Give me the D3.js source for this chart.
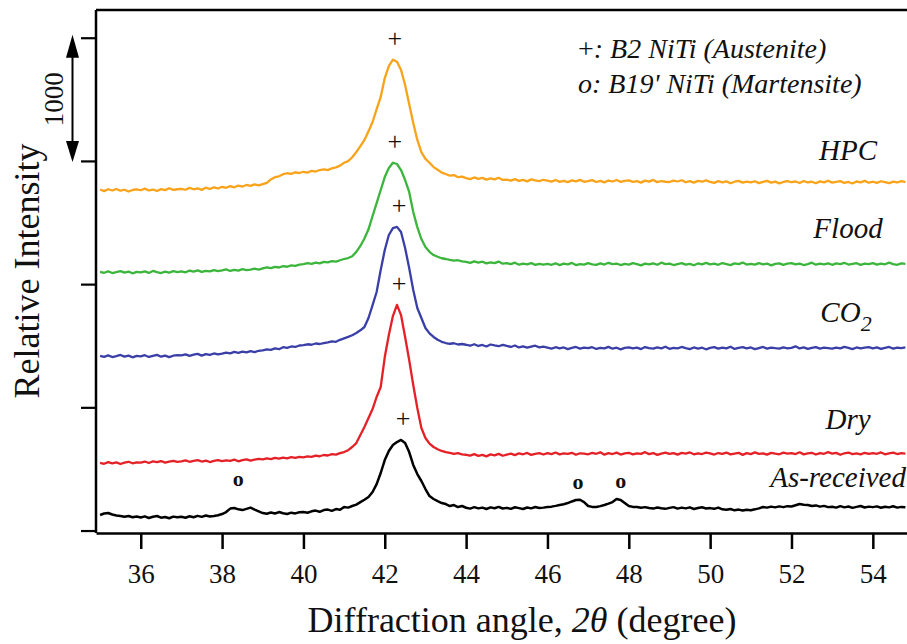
<!DOCTYPE html>
<html>
<head>
<meta charset="utf-8">
<script src="https://cdn.jsdelivr.net/npm/d3@7/dist/d3.min.js"></script>
<style>
  html, body { margin: 0; padding: 0; background: #fff; }
  svg { display: block; }
  text { font-family: "Liberation Serif", "Times New Roman", serif; fill: #111; }
</style>
</head>
<body>
<svg id="chart" width="907" height="644"></svg>
<script>
// Scan angles, 2θ in degrees
const angles = [
  35.0,35.1,35.2,35.3,35.4,35.5,35.6,35.7,35.8,35.9,
  36.0,36.1,36.2,36.3,36.4,36.5,36.6,36.7,36.8,36.9,
  37.0,37.1,37.2,37.3,37.4,37.5,37.6,37.7,37.8,37.9,
  38.0,38.1,38.2,38.3,38.4,38.5,38.6,38.7,38.8,38.9,
  39.0,39.1,39.2,39.3,39.4,39.5,39.6,39.7,39.8,39.9,
  40.0,40.1,40.2,40.3,40.4,40.5,40.6,40.7,40.8,40.9,
  41.0,41.1,41.2,41.3,41.4,41.5,41.6,41.7,41.8,41.9,
  42.0,42.1,42.2,42.3,42.4,42.5,42.6,42.7,42.8,42.9,
  43.0,43.1,43.2,43.3,43.4,43.5,43.6,43.7,43.8,43.9,
  44.0,44.1,44.2,44.3,44.4,44.5,44.6,44.7,44.8,44.9,
  45.0,45.1,45.2,45.3,45.4,45.5,45.6,45.7,45.8,45.9,
  46.0,46.1,46.2,46.3,46.4,46.5,46.6,46.7,46.8,46.9,
  47.0,47.1,47.2,47.3,47.4,47.5,47.6,47.7,47.8,47.9,
  48.0,48.1,48.2,48.3,48.4,48.5,48.6,48.7,48.8,48.9,
  49.0,49.1,49.2,49.3,49.4,49.5,49.6,49.7,49.8,49.9,
  50.0,50.1,50.2,50.3,50.4,50.5,50.6,50.7,50.8,50.9,
  51.0,51.1,51.2,51.3,51.4,51.5,51.6,51.7,51.8,51.9,
  52.0,52.1,52.2,52.3,52.4,52.5,52.6,52.7,52.8,52.9,
  53.0,53.1,53.2,53.3,53.4,53.5,53.6,53.7,53.8,53.9,
  54.0,54.1,54.2,54.3,54.4,54.5,54.6,54.7,54.8
];

// Intensities (counts, already stacked with a vertical offset per sample)
const hpc = [
  2768,2755,2770,2760,2772,2758,2766,2752,2764,2770,
  2762,2775,2760,2768,2756,2771,2763,2778,2765,2770,
  2774,2766,2781,2770,2778,2765,2783,2772,2786,2776,
  2790,2782,2795,2786,2800,2792,2805,2797,2810,2802,
  2812,2822,2850,2868,2875,2892,2900,2895,2908,2902,
  2912,2905,2920,2914,2926,2932,2925,2940,2948,2962,
  2985,2998,3030,3072,3120,3170,3240,3316,3420,3519,
  3673,3770,3822,3805,3738,3616,3462,3308,3170,3072,
  3016,2985,2950,2928,2905,2894,2880,2885,2868,2872,
  2860,2852,2866,2855,2862,2848,2858,2850,2863,2846,
  2848,2840,2852,2838,2846,2834,2850,2842,2836,2847,
  2840,2832,2845,2830,2838,2828,2842,2834,2846,2831,
  2836,2844,2829,2838,2826,2841,2833,2845,2830,2838,
  2842,2830,2836,2824,2840,2832,2846,2828,2837,2831,
  2829,2840,2833,2843,2827,2836,2824,2838,2831,2842,
  2830,2822,2836,2826,2834,2819,2831,2838,2824,2832,
  2826,2835,2820,2830,2838,2824,2832,2818,2829,2836,
  2827,2833,2821,2837,2825,2831,2819,2834,2826,2839,
  2824,2830,2836,2821,2829,2817,2833,2826,2838,2823,
  2831,2822,2835,2827,2819,2832,2825,2836,2828
];
const flood = [
  2100,2092,2104,2090,2098,2106,2093,2101,2088,2099,
  2095,2103,2091,2107,2097,2090,2102,2094,2105,2098,
  2104,2096,2110,2101,2112,2099,2108,2103,2114,2105,
  2112,2120,2107,2116,2110,2122,2113,2118,2125,2117,
  2128,2136,2130,2140,2135,2146,2141,2152,2148,2158,
  2162,2170,2165,2174,2168,2180,2176,2186,2182,2194,
  2204,2212,2226,2262,2310,2370,2445,2553,2658,2764,
  2869,2942,2985,2975,2926,2845,2748,2585,2463,2366,
  2301,2262,2236,2222,2210,2204,2196,2190,2194,2184,
  2180,2172,2185,2174,2182,2168,2177,2170,2183,2166,
  2170,2162,2174,2158,2167,2160,2171,2156,2165,2159,
  2164,2157,2169,2154,2166,2160,2172,2155,2163,2158,
  2170,2161,2156,2168,2159,2173,2162,2167,2155,2164,
  2158,2171,2163,2152,2166,2160,2169,2157,2174,2162,
  2167,2155,2163,2170,2158,2165,2153,2168,2161,2172,
  2160,2166,2157,2171,2163,2154,2168,2162,2175,2159,
  2165,2158,2170,2161,2167,2152,2164,2169,2156,2166,
  2171,2160,2167,2155,2163,2174,2158,2166,2161,2169,
  2157,2168,2162,2173,2159,2165,2170,2156,2167,2163,
  2170,2158,2166,2161,2174,2163,2157,2169,2165
];
const co2 = [
  1418,1410,1422,1408,1416,1425,1412,1420,1406,1417,
  1414,1423,1409,1418,1426,1411,1420,1407,1419,1424,
  1422,1430,1418,1428,1434,1420,1432,1426,1437,1429,
  1436,1444,1438,1450,1442,1452,1446,1456,1448,1459,
  1462,1470,1466,1478,1472,1488,1483,1494,1490,1502,
  1505,1512,1508,1518,1514,1522,1528,1536,1532,1548,
  1560,1572,1585,1603,1625,1652,1725,1830,1936,2114,
  2277,2399,2455,2465,2423,2293,2131,1952,1806,1725,
  1644,1600,1571,1548,1532,1522,1516,1520,1510,1514,
  1508,1500,1512,1498,1506,1494,1510,1502,1496,1507,
  1498,1490,1502,1486,1495,1484,1493,1500,1487,1492,
  1484,1476,1488,1479,1486,1472,1482,1490,1477,1485,
  1480,1488,1474,1483,1478,1491,1476,1484,1470,1482,
  1487,1478,1485,1473,1489,1480,1476,1486,1479,1492,
  1475,1483,1478,1490,1481,1473,1486,1477,1484,1471,
  1482,1489,1476,1485,1479,1492,1474,1483,1488,1478,
  1486,1472,1481,1490,1477,1485,1480,1476,1487,1479,
  1483,1495,1478,1486,1474,1482,1489,1477,1484,1480,
  1476,1485,1479,1491,1482,1473,1486,1478,1484,1488,
  1479,1486,1474,1483,1490,1477,1485,1481,1487
];
const dry = [
  550,542,555,545,553,540,551,558,546,554,
  552,560,548,562,555,564,551,559,566,557,
  561,570,558,566,572,560,568,556,565,571,
  563,570,566,575,562,572,578,568,576,582,
  577,585,579,590,583,592,586,595,589,598,
  594,602,598,608,603,613,609,620,616,628,
  637,652,678,710,775,840,913,986,1084,1165,
  1408,1587,1741,1832,1749,1571,1384,1181,994,832,
  751,705,678,660,646,637,630,622,628,618,
  615,608,620,606,614,602,618,610,622,607,
  616,624,612,627,619,630,614,622,628,617,
  628,620,633,618,626,622,631,615,627,624,
  619,630,623,635,616,628,621,632,617,626,
  631,618,627,622,636,620,629,614,625,633,
  622,628,616,630,624,634,619,627,621,632,
  626,617,629,623,633,618,625,631,614,628,
  620,634,622,627,616,630,624,619,632,625,
  629,621,635,618,626,631,617,628,623,636,
  624,630,615,627,633,620,626,618,631,622,
  628,623,634,619,627,632,621,629,625
];
const asReceived = [
  126,138,142,130,122,118,112,118,108,114,
  106,115,102,112,118,104,110,100,113,107,
  112,104,116,108,119,111,122,114,118,124,
  134,150,178,183,172,166,176,186,170,156,
  142,136,146,138,150,140,134,145,139,148,
  150,144,156,162,152,166,170,160,174,168,
  191,186,199,210,231,250,272,313,377,467,
  572,645,694,718,735,710,637,532,458,402,
  337,280,256,239,223,215,199,207,191,199,
  185,178,190,180,186,175,188,181,192,179,
  184,176,189,182,175,187,180,191,183,186,
  191,194,200,207,214,223,236,248,250,231,
  199,192,191,198,207,218,231,256,248,223,
  199,192,191,185,190,183,178,187,181,176,
  184,190,178,186,180,188,175,183,189,179,
  182,176,186,172,168,175,164,170,162,168,
  165,172,180,191,186,194,188,196,190,198,
  195,205,215,210,207,199,204,194,200,190,
  193,186,198,188,195,184,192,199,187,194,
  190,196,185,193,188,197,186,192,189
];

const sampleNames = ["HPC", "Flood", "CO2", "Dry", "As-received"];
const sampleValues = [hpc, flood, co2, dry, asReceived];
const sampleColors = ["#f8a31a", "#3cb53c", "#3a3fa8", "#e42127", "#000000"];

const xTickValues = [36, 38, 40, 42, 44, 46, 48, 50, 52, 54];
const yTickValues = [0, 1000, 2000, 3000, 4000];
const scaleBarRange = [3000, 4000];   // 1000 counts

// B19' martensite reflections on the as-received scan (angle, counts)
const martensiteAngles = [38.4, 46.75, 47.8];
const martensiteLevels = [420, 395, 410];

const legendLines = ["B2 NiTi (Austenite)", "B19' NiTi (Martensite)"];
const legendSymbols = ["+:", "o:"];

// ---------------------------------------------------------------
const plot = { left: 96, top: 10, right: 907, bottom: 533 };

const svg = d3.select("#chart");

const x = d3.scaleLinear().domain([34.9, 54.84]).range([plot.left, plot.right]);
const y = d3.scaleLinear().domain([-20, 4225]).range([plot.bottom, plot.top]);

const serif = '"Liberation Serif", "Times New Roman", serif';

// clip curves to the plotting frame
svg.append("defs").append("clipPath").attr("id", "plot-clip")
  .append("rect")
  .attr("x", plot.left).attr("y", plot.top)
  .attr("width", plot.right - plot.left).attr("height", plot.bottom - plot.top);

// curves
const line = d3.line()
  .x((d, i) => x(angles[i]))
  .y(d => y(d));

const curves = svg.append("g").attr("clip-path", "url(#plot-clip)");
sampleValues.forEach((vals, k) => {
  curves.append("path")
    .datum(vals)
    .attr("fill", "none")
    .attr("stroke", sampleColors[k])
    .attr("stroke-width", k === 4 ? 2.5 : 2.3)
    .attr("stroke-linejoin", "round")
    .attr("d", line);
});

// axes
const xAxis = d3.axisBottom(x)
  .tickValues(xTickValues)
  .tickSize(16)
  .tickSizeOuter(0)
  .tickPadding(15)
  .tickFormat(d3.format("d"));

const gx = svg.append("g")
  .attr("transform", `translate(0,${plot.bottom})`)
  .call(xAxis);
gx.select(".domain").attr("stroke", "#000").attr("stroke-width", 2.5);
gx.selectAll(".tick line").attr("stroke", "#000").attr("stroke-width", 2.5);
gx.selectAll(".tick text")
  .attr("font-family", serif)
  .attr("font-size", 27)
  .attr("fill", "#111");

const yAxis = d3.axisLeft(y)
  .tickValues(yTickValues)
  .tickSize(15)
  .tickSizeOuter(0)
  .tickFormat("");

const gy = svg.append("g")
  .attr("transform", `translate(${plot.left},0)`)
  .call(yAxis);
gy.select(".domain").attr("stroke", "#000").attr("stroke-width", 2.5)
  .attr("d", `M0,${plot.top}V${plot.bottom}`);
gy.selectAll(".tick line").attr("stroke", "#000").attr("stroke-width", 2.2);

// top frame line
svg.append("line")
  .attr("x1", plot.left).attr("x2", plot.right)
  .attr("y1", plot.top).attr("y2", plot.top)
  .attr("stroke", "#000").attr("stroke-width", 2.5);

// axis titles
const xTitle = svg.append("text")
  .attr("x", 522).attr("y", 632)
  .attr("text-anchor", "middle")
  .attr("font-size", 36);
xTitle.append("tspan").text("Diffraction angle, ");
xTitle.append("tspan").attr("font-style", "italic").text("2\u03B8");
xTitle.append("tspan").text(" (degree)");

svg.append("text")
  .attr("transform", "translate(39,271) rotate(-90)")
  .attr("text-anchor", "middle")
  .attr("font-size", 36)
  .text("Relative Intensity");

// 1000-count scale bar
const barX = 72.5;
const y0 = y(scaleBarRange[0]), y1 = y(scaleBarRange[1]);
const headLen = 20, headHalf = 6.5;
svg.append("line")
  .attr("x1", barX).attr("x2", barX)
  .attr("y1", y1 + headLen - 2).attr("y2", y0 - headLen + 2)
  .attr("stroke", "#000").attr("stroke-width", 2);
svg.append("path")
  .attr("d", `M${barX},${y1 - 3}L${barX - headHalf},${y1 + headLen}L${barX + headHalf},${y1 + headLen}Z`)
  .attr("fill", "#000");
svg.append("path")
  .attr("d", `M${barX},${y0 + 1}L${barX - headHalf},${y0 - headLen}L${barX + headHalf},${y0 - headLen}Z`)
  .attr("fill", "#000");
svg.append("text")
  .attr("transform", `translate(63,${(y0 + y1) / 2}) rotate(-90)`)
  .attr("text-anchor", "middle")
  .attr("font-size", 27)
  .text(String(scaleBarRange[1] - scaleBarRange[0]));

// "+" over the main B2 (110) reflection of every scan
sampleValues.forEach(vals => {
  const iMax = d3.maxIndex(vals);
  svg.append("text")
    .attr("x", x(angles[iMax]) + 2)
    .attr("y", y(vals[iMax]) - 21)
    .attr("text-anchor", "middle")
    .attr("dominant-baseline", "central")
    .attr("font-size", 26)
    .text("+");
});

// "o" over the martensite reflections
martensiteAngles.forEach((a, i) => {
  svg.append("text")
    .attr("x", x(a))
    .attr("y", y(martensiteLevels[i]))
    .attr("text-anchor", "middle")
    .attr("dominant-baseline", "central")
    .attr("font-size", 22)
    .attr("font-weight", "bold")
    .text("o");
});

// sample labels to the right
const labelGap = [22, 26, 25, 25, 20];
sampleNames.forEach((name, k) => {
  const vals = sampleValues[k];
  const yb = y(vals[vals.length - 1]) - labelGap[k];
  const t = svg.append("text")
    .attr("font-size", 29)
    .attr("font-style", "italic")
    .attr("y", yb);
  if (name === "As-received") {
    t.attr("x", 906).attr("text-anchor", "end").text(name);
  } else if (name === "CO2") {
    t.attr("x", 846).attr("text-anchor", "middle");
    t.append("tspan").text("CO");
    t.append("tspan").attr("font-size", 22).attr("dy", 9).text("2");
  } else {
    t.attr("x", 848).attr("text-anchor", "middle").text(name);
  }
});

// phase key
const key = svg.append("g");
legendLines.forEach((txt, i) => {
  const t = key.append("text")
    .attr("x", 578)
    .attr("y", 58 + i * 35)
    .attr("font-size", 28);
  t.append("tspan").attr("font-style", i === 0 ? "normal" : "italic").text(legendSymbols[i][0]);
  t.append("tspan").attr("font-style", "italic").text(legendSymbols[i].slice(1) + " " + txt);
});
</script>
</body>
</html>
